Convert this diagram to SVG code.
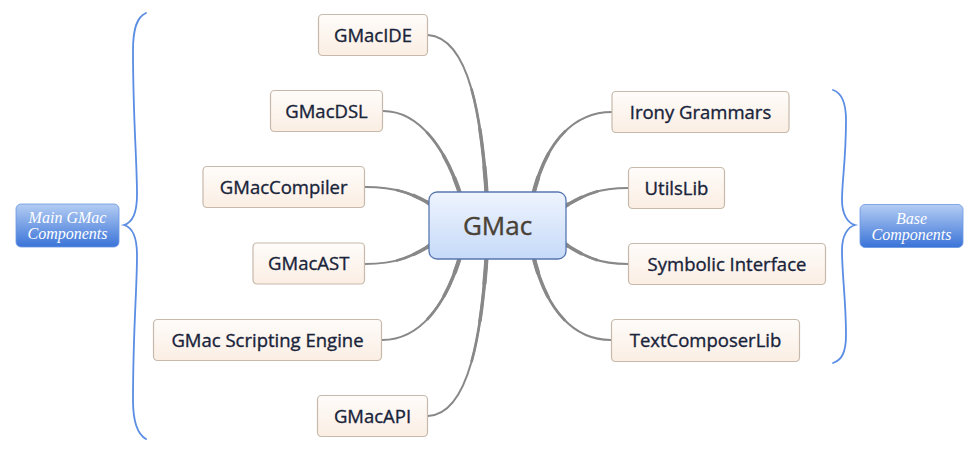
<svg xmlns="http://www.w3.org/2000/svg" width="980" height="450" viewBox="0 0 980 450">
<defs>
<linearGradient id="leafG" x1="0" y1="0" x2="0" y2="1"><stop offset="0" stop-color="#fefcfa"/><stop offset="1" stop-color="#fbeee3"/></linearGradient>
<linearGradient id="centerG" x1="0" y1="0" x2="0" y2="1"><stop offset="0" stop-color="#eef4fe"/><stop offset="1" stop-color="#c6daf8"/></linearGradient>
<linearGradient id="labelG" x1="0" y1="0" x2="0" y2="1"><stop offset="0" stop-color="#b4cdf3"/><stop offset="1" stop-color="#3a73d8"/></linearGradient>
</defs>
<style>
.leaf rect{fill:url(#leafG);stroke:#c7baac;stroke-width:1.2}
.leaf text{font-family:"Open Sans","Noto Sans",sans-serif;font-size:18.5px;fill:#18233a;stroke:#18233a;stroke-width:0.35;text-anchor:middle}
.center rect{fill:url(#centerG);stroke:#5877b0;stroke-width:1.3}
.center text{font-family:"Open Sans","Noto Sans",sans-serif;font-size:26px;fill:#4a4236;stroke:#4a4236;stroke-width:0.4;text-anchor:middle}
.label rect{fill:url(#labelG);stroke:#6a97e2;stroke-width:0.8}
.label text{font-family:"Liberation Serif",serif;font-style:italic;font-size:16px;fill:#ffffff;text-anchor:middle}
.c path{fill:none;stroke:#888888;stroke-linecap:round}
.c .w1{stroke-width:2}
.c .w2{stroke-width:2.7;stroke-dasharray:60 300}
.c .w3{stroke-width:3.4;stroke-dasharray:38 300}
.c .w4{stroke-width:4.2;stroke-dasharray:18 300}
.brace{fill:none;stroke:#5a8de3;stroke-width:1.8;stroke-linecap:round}
</style>
<g id="connectors" class="c">
<g id="e-ide"><path class="w1" d="M487,200 C482,120 470,38 428,35" pathLength="100"/><path class="w2" d="M487,200 C482,120 470,38 428,35" pathLength="100"/><path class="w3" d="M487,200 C482,120 470,38 428,35" pathLength="100"/><path class="w4" d="M487,200 C482,120 470,38 428,35" pathLength="100"/></g>
<g id="e-dsl"><path class="w1" d="M462,200 C447,150 420,111 383,111" pathLength="100"/><path class="w2" d="M462,200 C447,150 420,111 383,111" pathLength="100"/><path class="w3" d="M462,200 C447,150 420,111 383,111" pathLength="100"/><path class="w4" d="M462,200 C447,150 420,111 383,111" pathLength="100"/></g>
<g id="e-comp"><path class="w1" d="M440,210 C412,192 395,187 365,187" pathLength="100"/><path class="w2" d="M440,210 C412,192 395,187 365,187" pathLength="100"/><path class="w3" d="M440,210 C412,192 395,187 365,187" pathLength="100"/><path class="w4" d="M440,210 C412,192 395,187 365,187" pathLength="100"/></g>
<g id="e-ast"><path class="w1" d="M440,239 C412,258 395,264 365,264" pathLength="100"/><path class="w2" d="M440,239 C412,258 395,264 365,264" pathLength="100"/><path class="w3" d="M440,239 C412,258 395,264 365,264" pathLength="100"/><path class="w4" d="M440,239 C412,258 395,264 365,264" pathLength="100"/></g>
<g id="e-script"><path class="w1" d="M462,250 C447,305 420,340 382,340" pathLength="100"/><path class="w2" d="M462,250 C447,305 420,340 382,340" pathLength="100"/><path class="w3" d="M462,250 C447,305 420,340 382,340" pathLength="100"/><path class="w4" d="M462,250 C447,305 420,340 382,340" pathLength="100"/></g>
<g id="e-api"><path class="w1" d="M487,250 C482,330 470,414 428,416" pathLength="100"/><path class="w2" d="M487,250 C482,330 470,414 428,416" pathLength="100"/><path class="w3" d="M487,250 C482,330 470,414 428,416" pathLength="100"/><path class="w4" d="M487,250 C482,330 470,414 428,416" pathLength="100"/></g>
<g id="e-irony"><path class="w1" d="M532,200 C545,140 575,112 612,112" pathLength="100"/><path class="w2" d="M532,200 C545,140 575,112 612,112" pathLength="100"/><path class="w3" d="M532,200 C545,140 575,112 612,112" pathLength="100"/><path class="w4" d="M532,200 C545,140 575,112 612,112" pathLength="100"/></g>
<g id="e-utils"><path class="w1" d="M556,212 C585,193 600,188 628,188" pathLength="100"/><path class="w2" d="M556,212 C585,193 600,188 628,188" pathLength="100"/><path class="w3" d="M556,212 C585,193 600,188 628,188" pathLength="100"/><path class="w4" d="M556,212 C585,193 600,188 628,188" pathLength="100"/></g>
<g id="e-sym"><path class="w1" d="M556,238 C585,258 600,264 628,264" pathLength="100"/><path class="w2" d="M556,238 C585,258 600,264 628,264" pathLength="100"/><path class="w3" d="M556,238 C585,258 600,264 628,264" pathLength="100"/><path class="w4" d="M556,238 C585,258 600,264 628,264" pathLength="100"/></g>
<g id="e-text"><path class="w1" d="M532,250 C545,312 575,340 611,340" pathLength="100"/><path class="w2" d="M532,250 C545,312 575,340 611,340" pathLength="100"/><path class="w3" d="M532,250 C545,312 575,340 611,340" pathLength="100"/><path class="w4" d="M532,250 C545,312 575,340 611,340" pathLength="100"/></g>
</g>
<g id="braces">
<path class="brace" d="M146,13 C137,17 133,28 133,50 C133,120 137,160 137,195 C137,215 131,223 124,225 C131,227 137,235 137,255 C137,290 133,330 133,400 C133,422 137,434 146,439"/>
<path class="brace" d="M833,90 C842,93 846,102 846,120 C846,160 842,180 842,200 C842,215 848,223 855,225 C848,227 842,235 842,250 C842,275 846,300 846,335 C846,352 842,360 833,363"/>
</g>
<g id="n-gmac" class="center"><rect x="429" y="192" width="137" height="67" rx="8"/><text x="497.5" y="235">GMac</text></g>
<g id="n-ide" class="leaf"><rect x="318.5" y="14.5" width="109" height="41" rx="4"/><text x="373" y="41.5">GMacIDE</text></g>
<g id="n-dsl" class="leaf"><rect x="270.5" y="90.5" width="112" height="41" rx="4"/><text x="326.5" y="117.5">GMacDSL</text></g>
<g id="n-compiler" class="leaf"><rect x="203" y="166.5" width="161.5" height="41" rx="4"/><text x="283.7" y="193.5">GMacCompiler</text></g>
<g id="n-ast" class="leaf"><rect x="253" y="243" width="111.5" height="41" rx="4"/><text x="308.7" y="270">GMacAST</text></g>
<g id="n-script" class="leaf"><rect x="153.5" y="319.5" width="228" height="41" rx="4"/><text x="267.5" y="346.5">GMac Scripting Engine</text></g>
<g id="n-api" class="leaf"><rect x="317.5" y="395.5" width="110" height="41" rx="4"/><text x="372.5" y="422.5">GMacAPI</text></g>
<g id="n-irony" class="leaf"><rect x="612" y="91.5" width="177" height="41" rx="4"/><text x="700.5" y="118.5">Irony Grammars</text></g>
<g id="n-utils" class="leaf"><rect x="628.5" y="167.5" width="96" height="41" rx="4"/><text x="676.5" y="194.5">UtilsLib</text></g>
<g id="n-sym" class="leaf"><rect x="628.5" y="243.5" width="197" height="41" rx="4"/><text x="727" y="270.5">Symbolic Interface</text></g>
<g id="n-text" class="leaf"><rect x="611.5" y="319.5" width="188" height="42" rx="4"/><text x="705.5" y="347">TextComposerLib</text></g>
<g id="l-main" class="label"><rect x="16" y="204" width="103" height="43" rx="5"/><text x="67.5" y="223">Main GMac</text><text x="67.5" y="238.5">Components</text></g>
<g id="l-base" class="label"><rect x="860" y="204.5" width="103" height="43" rx="5"/><text x="911.5" y="224">Base</text><text x="911.5" y="240">Components</text></g>
</svg>
